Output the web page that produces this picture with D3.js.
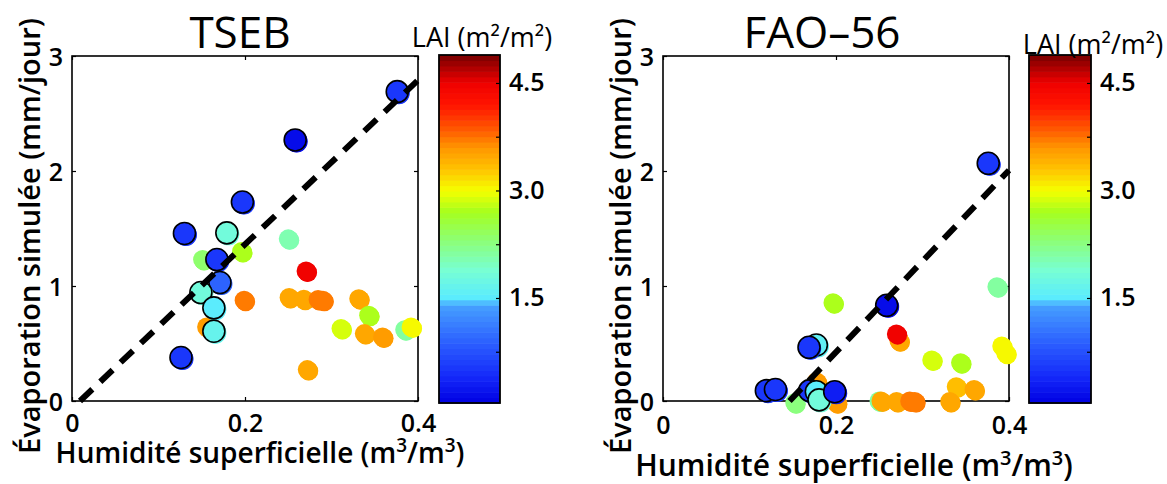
<!DOCTYPE html>
<html><head><meta charset="utf-8">
<script src="https://cdn.jsdelivr.net/npm/d3@7"></script>
<style>
body{margin:0;background:#fff;}
svg{display:block;font-family:"Open Sans","Noto Sans",sans-serif;}
</style></head>
<body><svg id="c" width="1167" height="484"></svg>
<script>
// ---------- data ----------
const xTicks = [0, 0.2, 0.4];
const xTickLabels = ["0", "0.2", "0.4"];
const yTicks = [0, 1, 2, 3];
const yTickLabels = ["0", "1", "2", "3"];
const cbTicks = [0.75, 1.5, 2.25, 3.0, 3.75, 4.5];
const cbTickLabels = ["", "1.5", "", "3.0", "", "4.5"];
const laiRange = [0.035, 4.89];

// TSEB – outlined markers
const tsebA_x   = [0.376, 0.258, 0.197, 0.130, 0.179, 0.1675, 0.171, 0.149, 0.164, 0.164, 0.126];
const tsebA_y   = [2.69, 2.27, 1.73, 1.457, 1.462, 1.23, 1.03, 0.943, 0.81, 0.607, 0.378];
const tsebA_lai = [0.55, 0.15, 0.5, 0.5, 1.85, 0.5, 0.9, 1.85, 1.55, 1.7, 0.5];
// TSEB – plain markers
const tsebB_x   = [0.1556, 0.151, 0.196, 0.250, 0.2706, 0.199, 0.251, 0.268, 0.2845, 0.290, 0.3315, 0.343, 0.311, 0.338, 0.359, 0.3846, 0.392, 0.272];
const tsebB_y   = [0.644, 1.23, 1.30, 1.41, 1.13, 0.876, 0.90, 0.885, 0.882, 0.876, 0.89, 0.746, 0.63, 0.586, 0.557, 0.62, 0.644, 0.273];
const tsebB_lai = [3.6, 2.35, 2.75, 2.05, 4.5, 3.7, 3.45, 3.45, 3.7, 3.7, 3.5, 2.75, 2.9, 3.45, 3.6, 2.1, 3.0, 3.45];
const tsebFit = [7.14, -0.066]; // slope, intercept

// FAO-56 – outlined markers
const faoA_x   = [0.376, 0.2586, 0.1773, 0.1688, 0.1195, 0.130, 0.1696, 0.1773, 0.1804, 0.1985];
const faoA_y   = [2.067, 0.832, 0.487, 0.467, 0.09, 0.10, 0.09, 0.081, 0.01, 0.081];
const faoA_lai = [0.55, 0.15, 1.6, 0.5, 0.5, 0.5, 0.5, 1.55, 1.85, 0.3];
// FAO-56 – plain markers
const faoB_x   = [0.1773, 0.2005, 0.1523, 0.1965, 0.386, 0.2728, 0.2698, 0.3107, 0.344, 0.3916, 0.3963, 0.339, 0.3596, 0.3315, 0.2497, 0.252, 0.270, 0.2852, 0.291];
const faoB_y   = [0.168, -0.015, -0.015, 0.855, 0.994, 0.524, 0.583, 0.357, 0.333, 0.478, 0.415, 0.124, 0.10, -0.005, 0.0, 0.0, -0.005, 0.0, -0.005];
const faoB_lai = [3.6, 3.6, 2.3, 2.75, 2.1, 3.5, 4.5, 2.9, 2.75, 3.05, 3.05, 3.3, 3.5, 3.5, 2.1, 3.45, 3.45, 3.7, 3.7];
const faoFit = [7.91, -1.157];

// ---------- colour map (jet-like, 64 levels) ----------
const cmapStops  = [0.035, 0.4, 1.0, 1.4, 1.5, 1.9, 2.3, 2.7, 3.0, 3.3, 3.6, 3.85, 4.2, 4.5, 4.89];
const cmapColors = ["#0000e1", "#1428fa", "#326eff", "#46a0ff", "#5aebff", "#78ffd2", "#8cff78", "#a5ff1e", "#f5ff00", "#ffc300", "#ff9600", "#ff5a00", "#ff1400", "#f00000", "#780000"];
const NLEV = 64;
const cont = d3.scaleLinear().domain(cmapStops).range(cmapColors).interpolate(d3.interpolateRgb).clamp(true);
function col(v){
  const t = (v - laiRange[0])/(laiRange[1]-laiRange[0]);
  const i = Math.max(0, Math.min(NLEV-1, Math.floor(t*NLEV)));
  return cont(laiRange[0] + (i+0.5)*(laiRange[1]-laiRange[0])/NLEV);
}

const svg = d3.select("#c");

function panel(o){
  const x = d3.scaleLinear().domain([0,0.4]).range([o.left, o.right]);
  const y = d3.scaleLinear().domain([0,3]).range([401, 56]);
  const g = svg.append("g");

  // frame
  g.append("rect").attr("x", o.left).attr("y", 56).attr("width", o.right-o.left).attr("height", 345)
    .attr("fill","#fff").attr("stroke","#000").attr("stroke-width",1.6);

  // axes (inward ticks)
  const ax = g.append("g").attr("transform",`translate(0,401)`)
    .call(d3.axisBottom(x).tickValues(xTicks).tickFormat((d,i)=>xTickLabels[i]).tickSize(-4).tickPadding(o.xtp));
  const axT = g.append("g").attr("transform",`translate(0,56)`)
    .call(d3.axisTop(x).tickValues(xTicks).tickFormat("").tickSize(-4));
  const ay = g.append("g").attr("transform",`translate(${o.left},0)`)
    .call(d3.axisLeft(y).tickValues(yTicks).tickFormat((d,i)=>yTickLabels[i]).tickSize(-4).tickPadding(9));
  const ayR = g.append("g").attr("transform",`translate(${o.right},0)`)
    .call(d3.axisRight(y).tickValues(yTicks).tickFormat("").tickSize(-4));
  [ax,axT,ay,ayR].forEach(a=>{ a.select(".domain").remove(); a.selectAll("line").attr("stroke","#000").attr("stroke-width",1.2);
    a.selectAll("text").attr("font-size",25).attr("font-weight",600).attr("fill","#000").attr("font-family","Open Sans"); });
  ay.selectAll("text").attr("dy","0.36em");

  // markers
  function pts(xs, ys, ls, r, outlined){
    const d = xs.map((v,i)=>({x:v, y:ys[i], l:ls[i]}));
    const gg = g.append("g");
    gg.selectAll("circle.s").data(d).join("circle").attr("class","s")
      .attr("cx",e=>x(e.x)+1.5).attr("cy",e=>y(e.y)+1.5).attr("r",r).attr("fill",e=>col(e.l));
    d.forEach(e=>{
      gg.append("circle").attr("cx",x(e.x)+1.2).attr("cy",y(e.y)+1.2).attr("r",r).attr("fill",col(e.l));
      gg.append("circle").attr("cx",x(e.x)).attr("cy",y(e.y)).attr("r",r).attr("fill",col(e.l))
        .attr("stroke", outlined ? "#000" : "none").attr("stroke-width", outlined ? 1.6 : 0);
    });
  }
  pts(o.bx, o.by, o.bl, 9.5, false);
  pts(o.ax, o.ay, o.al, 11, true);

  // regression dashed line
  const x0 = -o.fit[1]/o.fit[0], x1 = 0.4;
  g.append("line").attr("x1",x(x0)).attr("y1",y(0)).attr("x2",x(x1)).attr("y2",y(o.fit[0]*x1+o.fit[1]))
    .attr("stroke","#000").attr("stroke-width",6).attr("stroke-dasharray","17,11");

  // titles & labels
  svg.append("text").attr("x",(o.left+o.right)/2 + o.tdx).attr("y",48).attr("text-anchor","middle")
    .attr("font-size",44).attr("font-weight",400).text(o.title);
  svg.append("text").attr("transform",`translate(${o.left-42},236) rotate(-90)`).attr("text-anchor","middle")
    .attr("dy","0.35em").attr("font-size",29).attr("font-weight",600).text("Évaporation simulée (mm/jour)");
  const fs = o.xlfs, sup = Math.round(fs*0.68), up = Math.round(fs*0.38);
  const xl = svg.append("text").attr("x",(o.left+o.right)/2+o.xldx).attr("y",o.xly).attr("text-anchor","middle")
    .attr("font-size",fs).attr("font-weight",600);
  xl.append("tspan").text("Humidité superficielle (m");
  xl.append("tspan").attr("dy",-up).attr("font-size",sup).text("3");
  xl.append("tspan").attr("dy",up).text("/m");
  xl.append("tspan").attr("dy",-up).attr("font-size",sup).text("3");
  xl.append("tspan").attr("dy",up).text(")");

  // colour bar
  const cy = d3.scaleLinear().domain(laiRange).range([403, 55]);
  const cb = svg.append("g");
  const step = (laiRange[1]-laiRange[0])/NLEV;
  const lev = d3.range(NLEV).map(i=>laiRange[0]+i*step);
  cb.selectAll("rect.lv").data(lev).join("rect").attr("class","lv")
    .attr("x",o.cbx).attr("width",o.cbw).attr("y",d=>cy(d+step)).attr("height",d=>cy(d)-cy(d+step)+0.6)
    .attr("fill",d=>col(d+step/2));
  cb.append("rect").attr("x",o.cbx).attr("y",55).attr("width",o.cbw).attr("height",348)
    .attr("fill","none").attr("stroke","#000").attr("stroke-width",1.8);
  const ac = cb.append("g").attr("transform",`translate(${o.cbx+o.cbw},0)`)
    .call(d3.axisRight(cy).tickValues(cbTicks).tickFormat((d,i)=>cbTickLabels[i]).tickSize(-4).tickPadding(9));
  ac.select(".domain").remove();
  ac.selectAll("line").attr("stroke","#000").attr("stroke-width",1.2);
  ac.selectAll("text").attr("font-size",25).attr("font-weight",600).attr("fill","#000").attr("font-family","Open Sans");
  svg.append("text").attr("x",o.cbtx).attr("y",o.cbty).attr("text-anchor","middle")
    .attr("font-size",27).attr("font-weight",500).text("LAI (m²/m²)");
}

panel({left:72, right:418, title:"TSEB", tdx:-5, xly:463, xldx:15, xtp:13, xlfs:28,
  ax:tsebA_x, ay:tsebA_y, al:tsebA_lai, bx:tsebB_x, by:tsebB_y, bl:tsebB_lai, fit:tsebFit,
  cbx:439, cbw:61, cbtx:482, cbty:47});
panel({left:663, right:1009, title:"FAO–56", tdx:-14, xly:476, xldx:18, xtp:15, xlfs:30,
  ax:faoA_x, ay:faoA_y, al:faoA_lai, bx:faoB_x, by:faoB_y, bl:faoB_lai, fit:faoFit,
  cbx:1029, cbw:62, cbtx:1093, cbty:54});
</script></body></html>
